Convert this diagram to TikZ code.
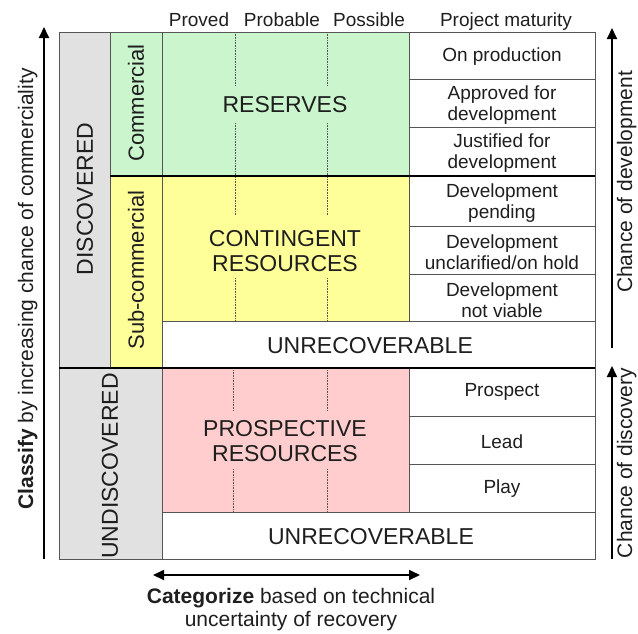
\documentclass[tikz,border=0pt]{standalone}
\usepackage{fontspec}
\setmainfont{Liberation Sans}
\usetikzlibrary{arrows.meta}
\definecolor{resgreen}{RGB}{202,245,205}
\definecolor{conyellow}{RGB}{255,255,153}
\definecolor{prospink}{RGB}{255,205,205}
\definecolor{cellgray}{RGB}{225,225,225}
\definecolor{gridline}{RGB}{85,85,85}
\definecolor{ink}{RGB}{30,30,30}
\begin{document}
\begin{tikzpicture}[x=1pt,y=-1pt,
  grid/.style={draw=gridline,line width=0.9pt},
  heavy/.style={draw=black,line width=1.8pt},
  dots/.style={draw=gridline,line width=0.6pt,densely dotted},
  small/.style={font=\fontsize{19}{21}\selectfont,text=ink,align=center,inner sep=0pt},
  big/.style={font=\fontsize{23}{25}\selectfont,text=ink,align=center,inner sep=0pt},
  side/.style={font=\fontsize{21}{23}\selectfont,text=ink,inner sep=0pt,align=center},
  axis/.style={draw=black,line width=1.8pt,-{Triangle[length=11pt,width=10pt]}},
  axisboth/.style={draw=black,line width=1.8pt,{Triangle[length=11pt,width=10pt]}-{Triangle[length=11pt,width=10pt]}},
]
\useasboundingbox (0,0) rectangle (638,633);

% cell fills
\fill[cellgray] (59,32) rectangle (110,368);
\fill[cellgray] (59,368) rectangle (162,559);
\fill[resgreen] (110,32) rectangle (409,176);
\fill[conyellow] (110,176) rectangle (409,321);
\fill[conyellow] (110,321) rectangle (162,368);
\fill[prospink] (162,368) rectangle (409,512);

% uncertainty bands (dotted)
\foreach \xx in {235,327} {
  \draw[dots] (\xx,32) -- (\xx,85);
  \draw[dots] (\xx,123) -- (\xx,215);
  \draw[dots] (\xx,278) -- (\xx,321);
}
\foreach \xx in {233,327} {
  \draw[dots] (\xx,370) -- (\xx,411);
  \draw[dots] (\xx,469) -- (\xx,512);
}

% grid
\draw[grid] (59,32) rectangle (595,559);
\draw[grid] (110,32) -- (110,368);
\draw[grid] (162,32) -- (162,559);
\draw[grid] (409,32) -- (409,321);
\draw[grid] (409,368) -- (409,512);
\foreach \yy in {79,127,226,274,416,464} \draw[grid] (409,\yy) -- (595,\yy);
\draw[grid] (162,321) -- (595,321);
\draw[grid] (162,512) -- (595,512);
\draw[heavy] (110,176) -- (595,176);
\draw[heavy] (59,368) -- (595,368);

% column headings
\node[small,anchor=base] (hproved) at (199,26) {Proved};
\node[small,anchor=base] (hprobable) at (282,26) {Probable};
\node[small,anchor=base] (hpossible) at (369,26) {Possible};
\node[small,anchor=base] (hmaturity) at (506,26) {Project maturity};

% class labels
\node[big,rotate=90] (discovered) at (85,199) {DISCOVERED};
\node[big,rotate=90] (undiscovered) at (110,466) {UNDISCOVERED};
\node[side,font=\fontsize{22}{24}\selectfont,rotate=90] (commercial) at (136,103) {Commercial};
\node[side,font=\fontsize{22}{24}\selectfont,rotate=90] (subcommercial) at (136,270) {Sub-commercial};

% resource classes
\node[big] (reserves) at (285,105) {RESERVES};
\node[big] (contingent) at (285,251) {CONTINGENT\\RESOURCES};
\node[big] (prospective) at (285,441) {PROSPECTIVE\\RESOURCES};
\node[big] (unrec1) at (370,346) {UNRECOVERABLE};
\node[big] (unrec2) at (371,537) {UNRECOVERABLE};

% project maturity
\node[small] (onprod) at (502,57) {On production};
\node[small] (approved) at (502,105) {Approved for\\development};
\node[small] (justified) at (502,153) {Justified for\\development};
\node[small] (pending) at (502,203) {Development\\pending};
\node[small] (onhold) at (502,252) {Development\\unclarified/on hold};
\node[small] (notviable) at (502,300) {Development\\not viable};
\node[small] (prospect) at (502,392) {Prospect};
\node[small] (lead) at (502,442) {Lead};
\node[small] (play) at (502,489) {Play};

% axes
\coordinate (clsbot) at (44,559);
\coordinate (clstop) at (44,27);
\draw[axis] (clsbot) -- (clstop);
\node[side,rotate=90,anchor=base] (classify) at (33,289)
  {\textbf{Classify} by increasing chance of commerciality};

\coordinate (devbot) at (612,348);
\coordinate (devtop) at (612,28);
\draw[axis] (devbot) -- (devtop);
\node[side,rotate=90,anchor=base] (devlabel) at (632,182) {Chance of development};

\coordinate (disbot) at (612,559);
\coordinate (distop) at (612,366);
\draw[axis] (disbot) -- (distop);
\node[side,rotate=90,anchor=base] (dislabel) at (632,463) {Chance of discovery};

\coordinate (catleft) at (153,575);
\coordinate (catright) at (420,575);
\draw[axisboth] (catleft) -- (catright);
\node[side] (categorize) at (291,610)
  {\textbf{Categorize} based on technical\\uncertainty of recovery};
\end{tikzpicture}
\end{document}
